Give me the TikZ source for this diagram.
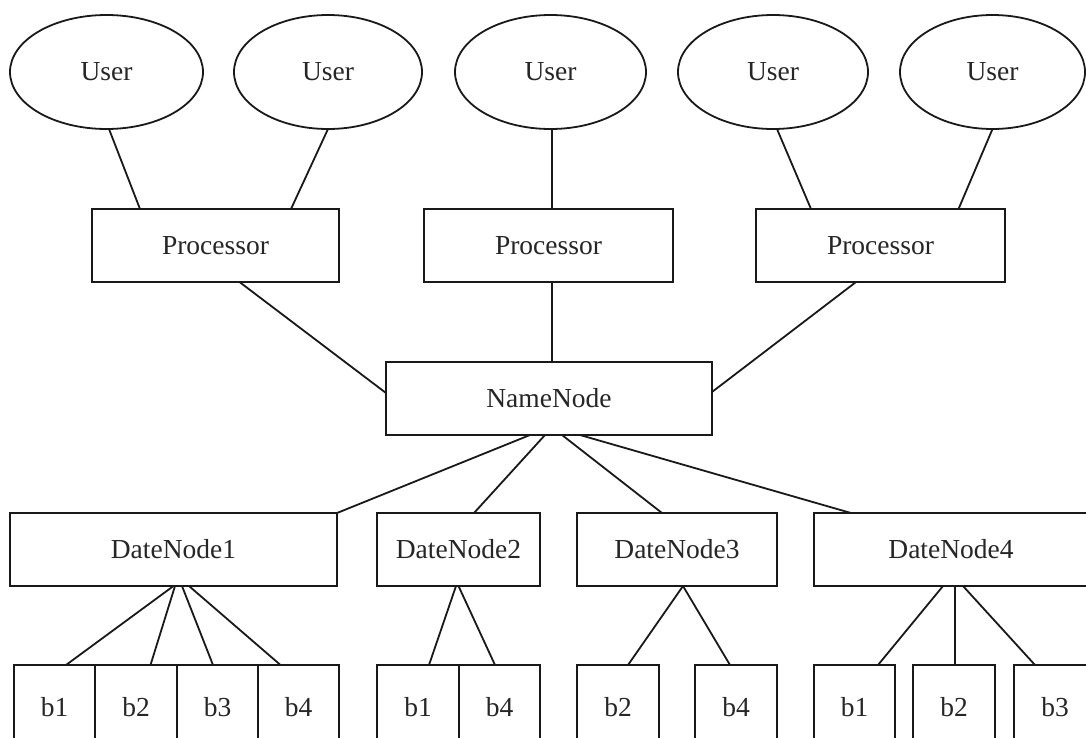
\documentclass[tikz,border=0pt]{standalone}
\usepackage{fontspec}
\setmainfont{Liberation Serif}
\usetikzlibrary{shapes.geometric}
\begin{document}
\begin{tikzpicture}[x=1pt,y=-1pt,
  every node/.style={inner sep=0pt,outer sep=0pt,text=black!85,font=\fontsize{27.5}{33}\selectfont},
  user/.style={ellipse,draw=black!90,line width=1.8pt,minimum height=114pt},
  box/.style={rectangle,draw=black!90,line width=1.8pt,minimum height=73pt},
  blk/.style={rectangle,draw=black!90,line width=1.8pt,minimum height=85pt,minimum width=82pt},
  conn/.style={draw=black!90,line width=1.8pt}]
\useasboundingbox (0,0) rectangle (1086,737);
\clip (0,0) rectangle (1086,737);
\fill[white] (0,0) rectangle (1086,737);
% users
\node[user,minimum width=193pt] (e1) at (106.5,72) {User};
\node[user,minimum width=188pt] (e2) at (328,72) {User};
\node[user,minimum width=191pt] (e3) at (550.5,72) {User};
\node[user,minimum width=190pt] (e4) at (773,72) {User};
\node[user,minimum width=185pt] (e5) at (992.5,72) {User};
% processors
\node[box,minimum width=247pt] (p1) at (215.5,245.5) {Processor};
\node[box,minimum width=249pt] (p2) at (548.5,245.5) {Processor};
\node[box,minimum width=249pt] (p3) at (880.5,245.5) {Processor};
% name node
\node[box,minimum width=326pt] (nn) at (549,398.5) {NameNode};
% data nodes
\node[box,minimum width=327pt] (d1) at (173.5,549.5) {DateNode1};
\node[box,minimum width=163pt] (d2) at (458.5,549.5) {DateNode2};
\node[box,minimum width=200pt] (d3) at (677,549.5) {DateNode3};
\node[box,minimum width=274pt] (d4) at (951,549.5) {DateNode4};
% blocks
\node[blk,minimum width=81pt] (d1b1) at (54.5,707.5) {b1};
\node[blk,minimum width=82pt] (d1b2) at (136,707.5) {b2};
\node[blk,minimum width=81pt] (d1b3) at (217.5,707.5) {b3};
\node[blk,minimum width=81pt] (d1b4) at (298.5,707.5) {b4};
\node[blk] (d2b1) at (418,707.5) {b1};
\node[blk,minimum width=81pt] (d2b4) at (499.5,707.5) {b4};
\node[blk] (d3b2) at (618,707.5) {b2};
\node[blk] (d3b4) at (736,707.5) {b4};
\node[blk,minimum width=81pt] (d4b1) at (854.5,707.5) {b1};
\node[blk] (d4b2) at (954,707.5) {b2};
\node[blk] (d4b3) at (1055,707.5) {b3};
% user - processor
\draw[conn] ([xshift=2.5pt]e1.south) -- ([xshift=48pt]p1.north west);
\draw[conn] (e2.south) -- ([xshift=-48pt]p1.north east);
\draw[conn] ([xshift=1.5pt]e3.south) -- ([xshift=3.5pt]p2.north);
\draw[conn] ([xshift=4pt]e4.south) -- ([xshift=55pt]p3.north west);
\draw[conn] (e5.south) -- ([xshift=-46.5pt]p3.north east);
% processor - namenode
\draw[conn] ([xshift=24pt]p1.south) -- ([yshift=5.5pt]nn.west);
\draw[conn] ([xshift=3.5pt]p2.south) -- ([xshift=3pt]nn.north);
\draw[conn] ([xshift=-24.5pt]p3.south) -- ([yshift=6.5pt]nn.east);
% namenode - datanodes
\draw[conn] ([xshift=-19pt]nn.south) -- (d1.north east);
\draw[conn] ([xshift=-4pt]nn.south) -- ([xshift=15.5pt]d2.north);
\draw[conn] ([xshift=13pt]nn.south) -- ([xshift=-15pt]d3.north);
\draw[conn] ([xshift=31pt]nn.south) -- ([xshift=37pt]d4.north west);
% datanode - blocks
\draw[conn] (d1.south) -- ([xshift=11.5pt]d1b1.north);
\draw[conn] ([xshift=1.5pt]d1.south) -- ([xshift=14.5pt]d1b2.north);
\draw[conn] ([xshift=8.5pt]d1.south) -- ([xshift=-4.5pt]d1b3.north);
\draw[conn] ([xshift=15.5pt]d1.south) -- ([xshift=-18pt]d1b4.north);
\draw[conn] ([xshift=-2.5pt]d2.south) -- ([xshift=11pt]d2b1.north);
\draw[conn] (d2.south) -- ([xshift=-4.5pt]d2b4.north);
\draw[conn] ([xshift=6pt]d3.south) -- ([xshift=10pt]d3b2.north);
\draw[conn] ([xshift=6pt]d3.south) -- ([xshift=-6pt]d3b4.north);
\draw[conn] ([xshift=-8pt]d4.south) -- ([xshift=23.5pt]d4b1.north);
\draw[conn] ([xshift=4pt]d4.south) -- ([xshift=1pt]d4b2.north);
\draw[conn] ([xshift=12pt]d4.south) -- ([xshift=-20pt]d4b3.north);
\end{tikzpicture}
\end{document}
